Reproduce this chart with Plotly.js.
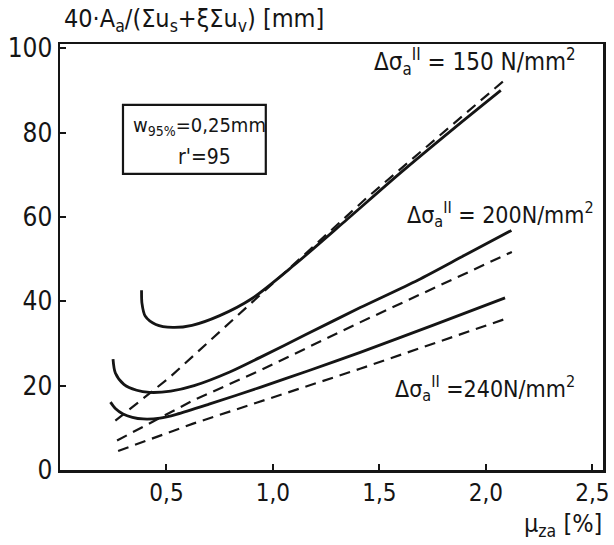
<!DOCTYPE html>
<html>
<head>
<meta charset="utf-8">
<script src="https://cdn.plot.ly/plotly-3.0.1.min.js"></script>
<style>html,body{margin:0;padding:0;background:#fff;}#chart{width:614px;height:545px;}</style>
</head>
<body>
<div id="chart"></div>
<script>
// Curve data (x = mu_za [%], y = 40*Aa/(sum us + xi sum uv) [mm])
const s150_x = [0.383, 0.385, 0.40, 0.45, 0.53, 0.62, 0.75, 0.90, 1.10, 1.35, 1.60, 1.85, 2.07];
const s150_y = [42.6, 39.5, 36.5, 34.5, 33.8, 34.3, 36.6, 40.6, 48.6, 59.5, 70.5, 81.0, 90.0];
const d150_x = [0.26, 0.516, 1.44, 2.08];
const d150_y = [11.7, 22.0, 64.5, 92.1];

const s200_x = [0.249, 0.26, 0.30, 0.36, 0.42, 0.52, 0.63, 0.80, 0.94, 1.15, 1.41, 1.68, 1.90, 2.12];
const s200_y = [26.3, 23.0, 20.3, 18.9, 18.4, 18.7, 20.0, 23.3, 26.7, 32.0, 38.5, 45.0, 50.9, 56.8];
const d200_x = [0.268, 0.625, 0.939, 1.409, 2.122];
const d200_y = [7.0, 16.5, 23.6, 35.0, 51.7];

const s240_x = [0.237, 0.26, 0.296, 0.34, 0.39, 0.47, 0.547, 0.70, 0.94, 1.17, 1.41, 1.75, 2.09];
const s240_y = [16.1, 14.6, 13.3, 12.5, 12.1, 12.3, 13.2, 15.6, 19.6, 23.6, 27.9, 34.3, 40.8];
const d240_x = [0.273, 0.625, 1.409, 2.09];
const d240_y = [4.5, 11.0, 24.0, 35.8];

const xTickVals = [0.5, 1.0, 1.5, 2.0, 2.5];
const xTickText = ['0,5', '1,0', '1,5', '2,0', '2,5'];
const yTickVals = [0, 20, 40, 60, 80, 100];
const yTickText = ['0', '20', '40', '60', '80', '100'];

const FONT = '"DejaVu Sans Condensed", "Liberation Sans", sans-serif';
const INK = '#151515';

function solid(x, y) {
  return {x: x, y: y, type: 'scatter', mode: 'lines',
    line: {color: INK, width: 2.8, shape: 'spline', smoothing: 0.8}, hoverinfo: 'skip'};
}
function dashed(x, y) {
  return {x: x, y: y, type: 'scatter', mode: 'lines',
    line: {color: INK, width: 2.2, dash: '11px,7px'}, hoverinfo: 'skip'};
}

const data = [
  solid(s150_x, s150_y), dashed(d150_x, d150_y),
  solid(s200_x, s200_y), dashed(d200_x, d200_y),
  solid(s240_x, s240_y), dashed(d240_x, d240_y)
];

const layout = {
  width: 614, height: 545,
  margin: {l: 60, r: 11, t: 44, b: 75},
  paper_bgcolor: '#fff', plot_bgcolor: '#fff',
  showlegend: false,
  font: {family: FONT, color: INK},
  xaxis: {
    range: [0, 2.55], tickvals: xTickVals, ticktext: xTickText,
    ticks: 'inside', ticklen: 6, tickwidth: 2, tickcolor: INK,
    showline: true, linewidth: 2.5, linecolor: INK, mirror: true,
    showgrid: false, zeroline: false, fixedrange: true,
    tickfont: {family: FONT, size: 24, color: INK}
  },
  yaxis: {
    range: [0, 101], tickvals: yTickVals, ticktext: yTickText,
    ticks: 'inside', ticklen: 6, tickwidth: 2, tickcolor: INK,
    showline: true, linewidth: 2.5, linecolor: INK, mirror: true,
    showgrid: false, zeroline: false, fixedrange: true,
    tickfont: {family: FONT, size: 26, color: INK}
  },
  shapes: [
    {type: 'rect', xref: 'paper', yref: 'paper', x0: 0.116, x1: 0.379, y0: 0.695, y1: 0.857,
     line: {color: INK, width: 2.2}, fillcolor: 'rgba(0,0,0,0)'}
  ],
  annotations: [
    {xref: 'paper', yref: 'paper', x: 0.004, y: 1.056, xanchor: 'left', yanchor: 'middle', showarrow: false,
     text: '40·A<sub>a</sub>/(Σu<sub>s</sub>+ξΣu<sub>v</sub>) [mm]', font: {family: FONT, size: 25, color: INK}},
    {xref: 'paper', yref: 'paper', x: 1.002, y: -0.13, xanchor: 'right', yanchor: 'middle', showarrow: false,
     text: 'μ<sub>za</sub> [%]', font: {family: FONT, size: 25, color: INK}},
    {xref: 'paper', yref: 'paper', x: 0.764, y: 0.958, xanchor: 'center', yanchor: 'middle', showarrow: false,
     text: 'Δσ<sub>a</sub><sup>II</sup> = 150 N/mm<sup>2</sup>', font: {family: FONT, size: 24, color: INK}},
    {xref: 'paper', yref: 'paper', x: 0.988, y: 0.599, xanchor: 'right', yanchor: 'middle', showarrow: false,
     text: 'Δσ<sub>a</sub><sup>II</sup> = 200N/mm<sup>2</sup>', font: {family: FONT, size: 23, color: INK}},
    {xref: 'paper', yref: 'paper', x: 0.783, y: 0.192, xanchor: 'center', yanchor: 'middle', showarrow: false,
     text: 'Δσ<sub>a</sub><sup>II</sup> =240N/mm<sup>2</sup>', font: {family: FONT, size: 23, color: INK}},
    {xref: 'paper', yref: 'paper', x: 0.256, y: 0.808, xanchor: 'center', yanchor: 'middle', showarrow: false,
     text: 'w<sub>95%</sub>=0,25mm', font: {family: FONT, size: 20, color: INK}},
    {xref: 'paper', yref: 'paper', x: 0.267, y: 0.735, xanchor: 'center', yanchor: 'middle', showarrow: false,
     text: "r'=95", font: {family: FONT, size: 21, color: INK}}
  ]
};

Plotly.newPlot('chart', data, layout, {staticPlot: true, displayModeBar: false});
</script>
</body>
</html>
